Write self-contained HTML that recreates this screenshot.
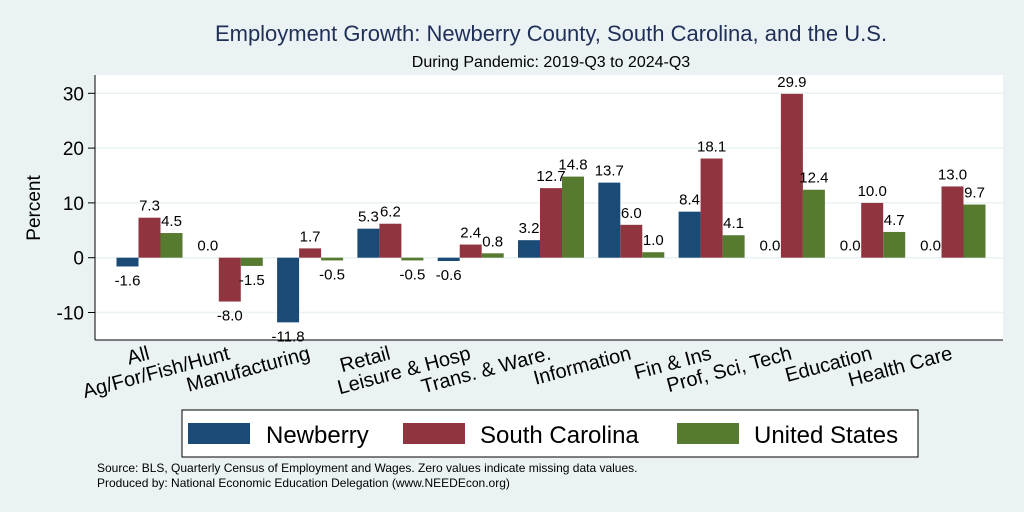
<!DOCTYPE html><html><head><style>body{margin:0;background:#eaf2f3}svg{display:block;font-family:"Liberation Sans",sans-serif}</style></head><body>
<svg id="c" width="1024" height="512">
<rect width="1024" height="512" fill="#eaf2f3"/>
<text x="551" y="41" font-size="22" text-anchor="middle" fill="#1f2f57">Employment Growth: Newberry County, South Carolina, and the U.S.</text>
<text x="551" y="67" font-size="16" text-anchor="middle">During Pandemic: 2019-Q3 to 2024-Q3</text>
<rect x="95" y="75" width="908" height="265" fill="#fff"/>
<g id="grid"></g><g id="bars"></g>
<line x1="95" y1="75" x2="95" y2="340" stroke="#000"/>
<line x1="95" y1="340" x2="1003" y2="340" stroke="#000"/>
<text transform="translate(40,208) rotate(-90)" font-size="19" text-anchor="middle">Percent</text>
<g>
<rect x="182" y="410" width="736" height="47" fill="#fff" stroke="#000"/>
<rect x="188" y="423" width="62" height="21" fill="#1a4a76"/>
<text x="266" y="443" font-size="24">Newberry</text>
<rect x="403" y="423" width="62" height="21" fill="#903540"/>
<text x="480" y="443" font-size="24">South Carolina</text>
<rect x="677" y="423" width="62" height="21" fill="#567a30"/>
<text x="754" y="443" font-size="24">United States</text>
</g>
<text x="97" y="472" font-size="12">Source: BLS, Quarterly Census of Employment and Wages. Zero values indicate missing data values.</text>
<text x="97" y="487" font-size="12">Produced by: National Economic Education Delegation (www.NEEDEcon.org)</text>
</svg>
<script>
const categories=["All","Ag/For/Fish/Hunt","Manufacturing","Retail","Leisure & Hosp","Trans. & Ware.","Information","Fin & Ins","Prof, Sci, Tech","Education","Health Care"];
const newberry=[-1.6,0.0,-11.8,5.3,-0.6,3.2,13.7,8.4,0.0,0.0,0.0];
const southCarolina=[7.3,-8.0,1.7,6.2,2.4,12.7,6.0,18.1,29.9,10.0,13.0];
const unitedStates=[4.5,-1.5,-0.5,-0.5,0.8,14.8,1.0,4.1,12.4,4.7,9.7];
const yTicks=[-10,0,10,20,30];
const NS="http://www.w3.org/2000/svg";
const y=v=>257.7-v*5.48;
const gx=i=>149.5+i*80.3;
function mk(t,a,p){const e=document.createElementNS(NS,t);for(const k in a)e.setAttribute(k,a[k]);p.appendChild(e);return e;}
const grid=document.getElementById('grid'),bars=document.getElementById('bars'),svg=document.getElementById('c');
yTicks.forEach(t=>{
 const l=mk('line',{x1:95,x2:1003,y1:y(t),y2:y(t),stroke:'#eaf2f3','stroke-width':1.5},grid);
 
 
 mk('line',{x1:88,x2:95,y1:y(t),y2:y(t),stroke:'#000'},grid);
 const tx=mk('text',{x:84,y:y(t)+7,'font-size':19,'text-anchor':'end'},grid);tx.textContent=t;
 
 
});
const series=[[newberry,'#1a4a76','newberry'],[southCarolina,'#903540','sc'],[unitedStates,'#567a30','us']];
categories.forEach((c,i)=>{
 series.forEach(([arr,col,nm],s)=>{
  const v=arr[i],x0=gx(i)-33+s*22;
  const r=mk('rect',{x:x0,y:Math.min(y(v),y(0)),width:22,height:Math.abs(y(v)-y(0)),fill:col},bars);
  
  
  const t=mk('text',{x:x0+11,y:v>=0?y(v)-7:y(v)+19,'font-size':15,'text-anchor':'middle'},bars);
  t.textContent=v.toFixed(1);
  
  
 });
 const lt=mk('text',{transform:`translate(${gx(i)+1},${359}) rotate(-15)`,'font-size':20,'text-anchor':'end'},svg);
 lt.textContent=c;
 
 
});
</script></body></html>
